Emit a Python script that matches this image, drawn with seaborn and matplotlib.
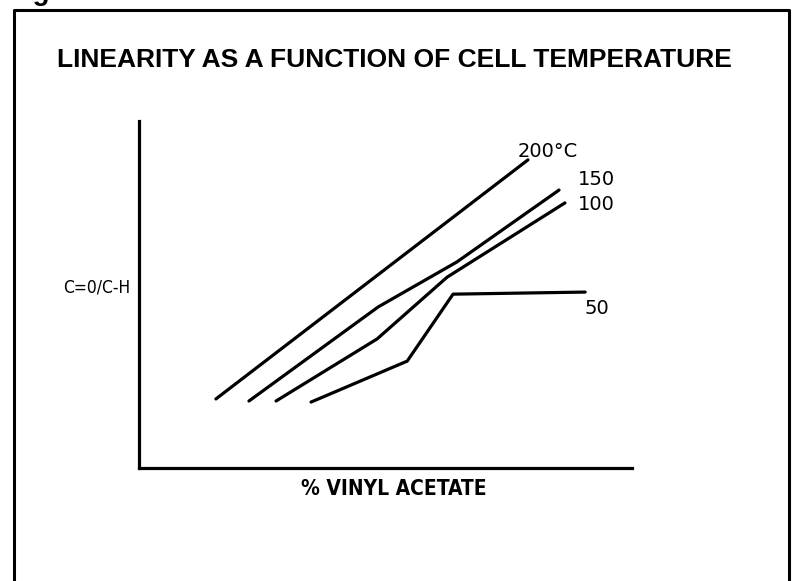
import numpy as np
import pandas as pd
import seaborn as sns
import matplotlib.pyplot as plt
from matplotlib.lines import Line2D

# series (arbitrary units, 0-100 on both axes)
temps = ["200", "150", "100", "50"]
x_200 = [15.6, 78.9]
y_200 = [19.9, 88.8]
x_150 = [22.3, 48.5, 64.5, 85.2]
y_150 = [19.3, 46.4, 59.4, 80.1]
x_100 = [27.8, 48.3, 62.5, 86.4]
y_100 = [19.3, 37.2, 55.0, 76.4]
x_50 = [34.9, 54.4, 63.7, 90.5]
y_50 = [19.0, 30.8, 50.1, 50.7]

curve_labels = ["200°C", "150", "100", "50"]
label_x = [76.7, 89.0, 89.0, 90.3]
label_y = [91.1, 83.0, 75.8, 46.1]

title = "LINEARITY AS A FUNCTION OF CELL TEMPERATURE"
xlabel = "% VINYL ACETATE"
ylabel = "C=0/C-H"

frames = []
for t, xs, ys in zip(temps, [x_200, x_150, x_100, x_50], [y_200, y_150, y_100, y_50]):
    frames.append(pd.DataFrame({"vinyl": xs, "ratio": ys, "temp": t, "order": range(len(xs))}))
df = pd.concat(frames, ignore_index=True)

sns.set_style("white")
plt.rcParams["font.family"] = ["DejaVu Sans"]
plt.rcParams["text.color"] = "black"

W, H = 793, 581
fig = plt.figure(figsize=(W / 100, H / 100), dpi=100)

def px(x0, y0, x1, y1):
    # pixel box -> figure fraction [left, bottom, width, height]
    return [x0 / W, 1 - y1 / H, (x1 - x0) / W, (y1 - y0) / H]

ax = fig.add_axes(px(139, 121, 632, 468))
sns.lineplot(data=df, x="vinyl", y="ratio", hue="temp", units="temp", sort=False,
             estimator=None, palette=["black"] * 4, linewidth=2.3, legend=False, ax=ax)
ax.set_xlim(0, 100)
ax.set_ylim(0, 100)
ax.set_xticks([])
ax.set_yticks([])
ax.set_xlabel("")
ax.set_ylabel("")
for side in ["top", "right"]:
    ax.spines[side].set_visible(False)
for side in ["left", "bottom"]:
    ax.spines[side].set_linewidth(2.3)
    ax.spines[side].set_color("black")

for lab, lx, ly in zip(curve_labels, label_x, label_y):
    ax.text(lx, ly, lab, fontsize=14, ha="left", va="center", color="black")

# outer frame (open at the bottom, as in the scan)
fig.add_artist(Line2D([14 / W, 14 / W, 789 / W, 789 / W],
                      [-0.05, 1 - 10 / H, 1 - 10 / H, -0.05],
                      transform=fig.transFigure, color="black", linewidth=2.2))
# caption cut off by the top of the scan
fig.text(8 / W, 1.0, "Figure 7", fontsize=20, fontweight="bold",
         ha="left", va="baseline", family=["Liberation Sans", "DejaVu Sans"])

fig.text(394 / W, 1 - 60 / H, title, fontsize=19, fontweight="bold",
         ha="center", va="center", family=["Liberation Sans", "DejaVu Sans"])
fig.text(130 / W, 1 - 288 / H, ylabel, fontsize=12.5, ha="right", va="center",
         family=["Liberation Sans Narrow", "DejaVu Sans"], fontstretch="condensed")
fig.text(394 / W, 1 - 489 / H, xlabel, fontsize=15, fontweight="bold",
         ha="center", va="center",
         family=["Liberation Sans Narrow", "DejaVu Sans"], fontstretch="condensed")

fig.savefig("out.png", dpi=100, facecolor="white")
